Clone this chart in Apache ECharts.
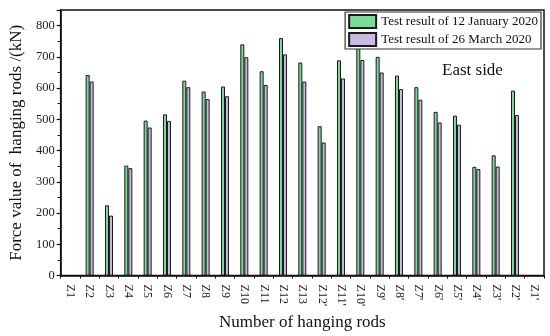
<!DOCTYPE html>
<html><head><meta charset="utf-8">
<script src="https://cdn.jsdelivr.net/npm/echarts@6/dist/echarts.min.js"></script>
<style>html,body{margin:0;padding:0;background:#fff}#c{width:550px;height:336px}</style>
</head><body><div id="c"></div>
<script>
const categories = ["Z1","Z2","Z3","Z4","Z5","Z6","Z7","Z8","Z9","Z10","Z11","Z12","Z13","Z12'","Z11'","Z10'","Z9'","Z8'","Z7'","Z6'","Z5'","Z4'","Z3'","Z2'","Z1'"];
const january = [null,642,225,352,496,516,624,589,605,740,654,760,682,478,689,732,700,640,603,524,512,348,385,592,null];
const march = [null,621,192,344,474,495,603,565,574,699,610,708,621,426,631,690,650,597,563,490,483,341,349,514,null];
const seriesNames = ["Test result of 12 January 2020","Test result of 26 March 2020"];
const yTicks = [0,100,200,300,400,500,600,700,800];

const font = "'Liberation Serif', 'Times New Roman', serif";
const chart = echarts.init(document.getElementById('c'));
chart.setOption({
  animation: false,
  backgroundColor: '#fff',
  grid: { left: 51, right: 6, top: 10, bottom: 58, show: true, borderColor: '#111', borderWidth: 1.5 },
  legend: {
    orient: 'vertical', right: 9, top: 12, itemWidth: 27, itemHeight: 13, itemGap: 3, icon: 'rect',
    padding: [2, 3, 2, 3], borderColor: '#333', borderWidth: 1.2, backgroundColor: '#fff',
    textStyle: { fontFamily: font, fontSize: 13, color: '#111' },
    data: seriesNames
  },
  xAxis: [{
    type: 'category', data: categories,
    name: 'Number of hanging rods', nameLocation: 'middle', nameGap: 37,
    nameTextStyle: { fontFamily: font, fontSize: 17, color: '#111' },
    axisLine: { lineStyle: { color: '#111', width: 1.5 } },
    axisTick: { alignWithLabel: true, interval: 0, length: 4, lineStyle: { color: '#111', width: 1.2 } },
    axisLabel: { interval: 0, rotate: -90, fontFamily: font, fontSize: 12, color: '#222', margin: 9 }
  }, {
    type: 'category', data: categories, position: 'bottom',
    axisLine: { show: false },
    axisTick: { show: true, interval: 0, length: 3, lineStyle: { color: '#111', width: 1 } },
    axisLabel: { show: false }
  }],
  yAxis: {
    type: 'value', min: 0, max: 850, interval: 100,
    name: 'Force value of  hanging rods /(kN)', nameLocation: 'middle', nameGap: 30,
    nameTextStyle: { fontFamily: font, fontSize: 17, color: '#111' },
    axisLine: { show: true, lineStyle: { color: '#111', width: 1.5 } },
    axisTick: { show: true, length: 4, lineStyle: { color: '#111', width: 1.2 } },
    minorTick: { show: true, splitNumber: 2, length: 3, lineStyle: { color: '#111', width: 1 } },
    splitLine: { show: false },
    axisLabel: { fontFamily: font, fontSize: 12.5, color: '#222', margin: 6,
      formatter: v => (yTicks.indexOf(v) >= 0 ? String(v) : '') }
  },
  graphic: [{
    type: 'text', left: 442, top: 62,
    style: { text: 'East side', font: '17px ' + font, fill: '#111' }
  }],
  series: [{
    name: seriesNames[0], type: 'bar', data: january, barWidth: 4, barGap: '0%',
    itemStyle: { color: '#7fd89c', borderColor: '#1a1a1a', borderWidth: 1 }
  }, {
    name: seriesNames[1], type: 'bar', data: march, barWidth: 4, barGap: '0%',
    itemStyle: { color: '#c9badf', borderColor: '#1a1a1a', borderWidth: 1 }
  }]
});
</script></body></html>
